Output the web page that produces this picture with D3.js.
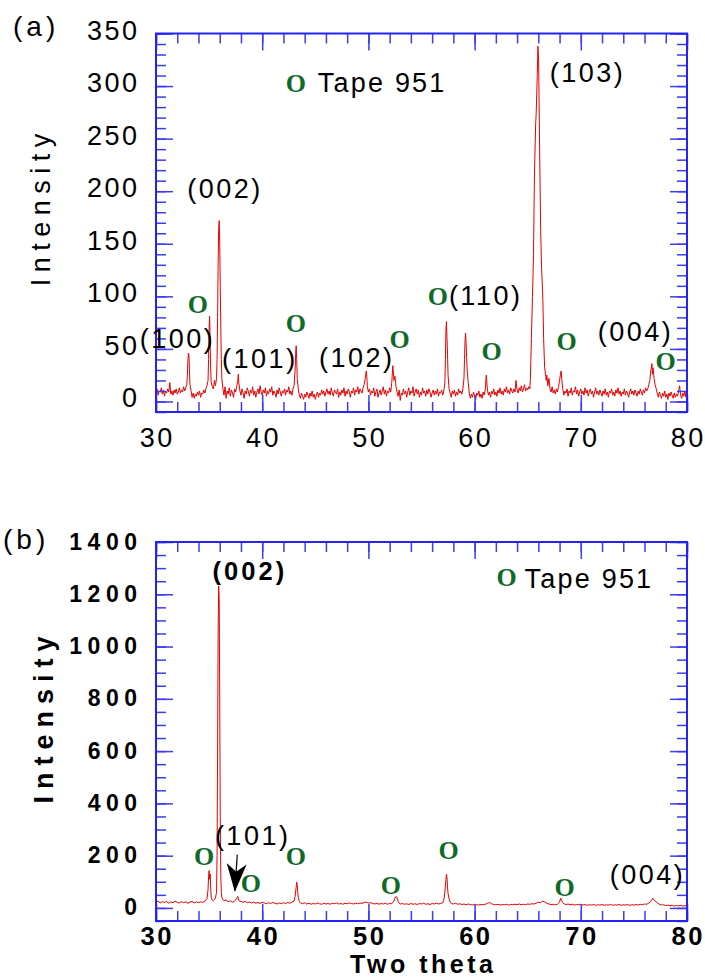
<!DOCTYPE html>
<html>
<head>
<meta charset="utf-8">
<script src="https://cdn.jsdelivr.net/npm/d3@7"></script>
<style>
  html, body { margin: 0; padding: 0; background: #fff; }
  svg text { font-family: "Liberation Sans", Arial, Helvetica, sans-serif; }
</style>
</head>
<body>
<svg id="chart" width="705" height="979"></svg>
<script>
// ---- axis ticks ----
const twoThetaTicks = [30, 40, 50, 60, 70, 80];
const intensityTicksA = [0, 50, 100, 150, 200, 250, 300, 350];
const intensityTicksB = [0, 200, 400, 600, 800, 1000, 1200, 1400];

// ---- XRD scan (a): [2θ, intensity] ----
const scanA = [
  [30.0,8],[30.1,12],[30.2,6],[30.3,10],[30.4,9],[30.5,13],[30.6,7],[30.7,11],[30.8,5],[30.9,10],
  [31.0,8],[31.1,12],[31.2,9],[31.3,18],[31.4,7],[31.5,10],[31.6,6],[31.7,11],[31.8,8],[31.9,12],
  [32.0,7],[32.1,9],[32.2,13],[32.3,8],[32.4,11],[32.5,9],[32.6,14],[32.7,10],[32.8,13],
  [32.9,16],[32.95,24],[33.0,38],[33.05,46],[33.1,44],[33.15,30],[33.2,16],[33.3,10],
  [33.4,4],[33.5,8],[33.6,3],[33.7,7],[33.8,5],[33.9,9],[34.0,6],[34.1,10],[34.2,4],[34.3,8],
  [34.4,7],[34.5,11],[34.6,8],[34.7,12],[34.8,15],
  [34.9,20],[34.95,40],[35.0,70],[35.05,81],[35.1,55],[35.15,30],[35.2,18],[35.3,14],[35.4,12],
  [35.5,20],[35.6,15],[35.7,22],
  [35.75,40],[35.8,80],[35.85,130],[35.9,163],[35.95,172],[36.0,150],[36.05,110],[36.1,70],
  [36.15,40],[36.2,22],[36.3,12],
  [36.4,6],[36.5,14],[36.6,3],[36.7,10],[36.8,7],[36.9,13],[37.0,5],[37.1,11],[37.2,8],[37.3,4],
  [37.4,12],[37.5,9],[37.6,14],[37.7,20],[37.75,26],[37.8,18],[37.9,10],
  [38.0,6],[38.1,12],[38.2,8],[38.3,3],[38.4,10],[38.5,7],[38.6,13],[38.7,9],[38.8,5],[38.9,11],
  [39.0,8],[39.1,14],[39.2,6],[39.3,10],[39.4,4],[39.5,9],[39.6,12],[39.7,7],[39.8,15],[39.9,9],
  [40.0,6],[40.1,11],[40.2,8],[40.3,13],[40.4,5],[40.5,10],[40.6,7],[40.7,12],[40.8,9],[40.9,14],
  [41.0,6],[41.1,10],[41.2,8],[41.3,4],[41.4,11],[41.5,7],[41.6,13],[41.7,9],[41.8,5],[41.9,10],
  [42.0,8],[42.1,12],[42.2,6],[42.3,11],[42.4,9],[42.5,14],[42.6,7],[42.7,10],[42.8,6],[42.9,12],
  [43.0,15],[43.1,30],[43.15,45],[43.2,53],[43.25,40],[43.3,22],[43.4,12],[43.5,6],
  [43.6,3],[43.7,8],[43.8,5],[43.9,2],[44.0,7],[44.1,4],[44.2,9],[44.3,6],[44.4,3],[44.5,8],
  [44.6,5],[44.7,10],[44.8,4],[44.9,7],[45.0,2],[45.1,6],[45.2,9],[45.3,4],[45.4,8],[45.5,6],
  [45.6,11],[45.7,7],[45.8,10],[45.9,5],[46.0,9],[46.1,12],[46.2,7],[46.3,10],[46.4,6],[46.5,13],
  [46.6,8],[46.7,5],[46.8,11],[46.9,9],[47.0,7],[47.1,12],[47.2,4],[47.3,9],[47.4,6],[47.5,11],
  [47.6,8],[47.7,13],[47.8,5],[47.9,10],[48.0,7],[48.1,12],[48.2,9],[48.3,4],[48.4,10],[48.5,8],
  [48.6,13],[48.7,6],[48.8,11],[48.9,9],[49.0,14],[49.1,7],[49.2,12],[49.3,10],[49.4,8],[49.5,13],
  [49.6,16],[49.7,22],[49.8,29],[49.85,24],[49.9,14],
  [50.0,9],[50.1,12],[50.2,6],[50.3,10],[50.4,8],[50.5,13],[50.6,5],[50.7,9],[50.8,12],[50.9,4],
  [51.0,8],[51.1,11],[51.2,6],[51.3,10],[51.4,14],[51.5,7],[51.6,11],[51.7,5],[51.8,10],[51.9,8],
  [52.0,13],[52.1,9],[52.2,18],[52.3,34],[52.35,28],[52.4,20],[52.5,24],[52.6,14],[52.7,9],[52.8,5],
  [52.9,11],[53.0,1],[53.1,8],[53.2,6],[53.3,12],[53.4,7],[53.5,10],[53.6,4],[53.7,9],[53.8,13],
  [53.9,6],[54.0,10],[54.1,8],[54.2,14],[54.3,5],[54.4,9],[54.5,12],[54.6,7],[54.7,11],[54.8,4],
  [54.9,9],[55.0,6],[55.1,13],[55.2,8],[55.3,10],[55.4,5],[55.5,11],[55.6,7],[55.7,12],[55.8,9],
  [55.9,4],[56.0,8],[56.1,11],[56.2,6],[56.3,10],[56.4,7],[56.5,12],[56.6,5],[56.7,9],[56.8,8],
  [56.9,11],[57.0,6],[57.1,10],[57.2,18],[57.25,40],[57.3,68],[57.35,76],[57.4,60],[57.45,45],
  [57.5,25],[57.6,12],[57.7,8],[57.8,4],[57.9,10],[58.0,7],[58.1,11],[58.2,5],[58.3,9],[58.4,6],
  [58.5,12],[58.6,8],[58.7,10],[58.8,7],[58.9,12],
  [59.0,22],[59.05,40],[59.1,58],[59.15,65],[59.2,55],[59.25,42],[59.3,30],[59.4,18],[59.5,8],
  [59.6,3],[59.7,7],[59.8,4],[59.9,9],[60.0,5],[60.1,2],[60.2,8],[60.3,6],[60.4,10],[60.5,4],
  [60.6,7],[60.7,3],[60.8,9],[60.9,6],[61.0,11],[61.1,25],[61.2,12],[61.3,6],[61.4,9],[61.5,4],
  [61.6,10],[61.7,7],[61.8,12],[61.9,6],[62.0,9],[62.1,5],[62.2,11],[62.3,8],[62.4,13],[62.5,7],
  [62.6,10],[62.7,6],[62.8,12],[62.9,9],[63.0,14],[63.1,8],[63.2,11],[63.3,7],[63.4,13],[63.5,10],
  [63.6,8],[63.7,12],[63.8,9],[63.9,20],[64.0,11],[64.1,8],[64.2,13],[64.3,10],[64.4,15],[64.5,9],
  [64.6,12],[64.7,16],[64.8,10],[64.9,13],[65.0,11],[65.1,14],[65.2,12],
  [65.25,20],[65.35,60],[65.45,100],[65.55,140],[65.6,188],[65.65,222],[65.75,264],[65.8,274],
  [65.9,310],[65.96,338],[66.03,325],[66.12,242],[66.22,163],[66.3,130],[66.43,96],[66.5,60],
  [66.59,33],[66.7,24],[66.75,20],[66.8,25],[66.9,15],[67.0,22],[67.1,12],[67.2,9],[67.3,14],
  [67.4,8],[67.5,11],[67.6,7],[67.7,12],[67.8,9],[67.9,14],
  [68.0,20],[68.1,27],[68.15,29],[68.2,22],[68.3,12],[68.4,6],[68.5,10],[68.6,8],[68.7,12],[68.8,5],
  [68.9,10],[69.0,8],[69.1,13],[69.2,6],[69.3,10],[69.4,9],[69.5,14],[69.6,7],[69.7,11],[69.8,5],
  [69.9,9],[70.0,12],[70.1,7],[70.2,10],[70.3,6],[70.4,13],[70.5,8],[70.6,11],[70.7,5],[70.8,9],
  [70.9,12],[71.0,7],[71.1,10],[71.2,4],[71.3,9],[71.4,13],[71.5,7],[71.6,10],[71.7,6],[71.8,11],
  [71.9,8],[72.0,5],[72.1,10],[72.2,7],[72.3,12],[72.4,6],[72.5,9],[72.6,4],[72.7,10],[72.8,8],
  [72.9,12],[73.0,6],[73.1,9],[73.2,5],[73.3,11],[73.4,8],[73.5,13],[73.6,7],[73.7,10],[73.8,5],
  [73.9,9],[74.0,7],[74.1,12],[74.2,6],[74.3,10],[74.4,8],[74.5,4],[74.6,9],[74.7,12],[74.8,7],
  [74.9,10],[75.0,6],[75.1,11],[75.2,8],[75.3,5],[75.4,10],[75.5,7],[75.6,12],[75.7,9],[75.8,6],
  [75.9,11],[76.0,8],[76.1,13],[76.2,10],[76.3,12],[76.4,16],[76.5,20],[76.6,30],[76.7,36],
  [76.75,26],[76.8,32],[76.9,22],[77.0,16],[77.1,12],[77.2,8],[77.3,4],[77.4,9],[77.5,6],[77.6,3],
  [77.7,8],[77.8,5],[77.9,10],[78.0,4],[78.1,7],[78.2,2],[78.3,8],[78.4,5],[78.5,9],[78.6,6],
  [78.7,3],[78.8,8],[78.9,4],[79.0,7],[79.1,5],[79.2,9],[79.3,15],[79.4,6],[79.5,3],[79.6,8],
  [79.7,5],[79.8,10],[79.9,4],[80.0,7]
];

// ---- XRD scan (b): [2θ, intensity] ----
const scanB = [
  [30.0,22],[30.2,26],[30.4,19],[30.6,24],[30.8,21],[31.0,25],[31.2,18],[31.4,23],[31.6,20],[31.8,26],
  [32.0,21],[32.2,19],[32.4,24],[32.6,20],[32.8,23],[33.0,18],[33.2,22],[33.4,25],[33.6,19],[33.8,23],
  [34.0,20],[34.2,24],[34.4,21],[34.6,26],[34.8,35],[34.9,70],[34.95,120],[35.0,143],[35.05,110],
  [35.1,130],[35.15,80],[35.2,40],[35.3,30],[35.4,28],[35.5,32],[35.6,38],[35.7,60],[35.75,200],
  [35.8,600],[35.85,1050],[35.9,1232],[35.95,1180],[36.0,800],[36.05,350],[36.1,120],[36.15,60],
  [36.2,40],[36.3,32],[36.4,28],[36.6,30],[36.8,24],[37.0,27],[37.2,22],[37.4,26],[37.5,30],
  [37.6,37],[37.7,44],[37.8,30],[37.9,24],[38.0,26],[38.2,21],[38.4,25],[38.6,20],[38.8,23],
  [39.0,19],[39.2,22],[39.4,18],[39.6,21],[39.8,17],[40.0,22],[40.2,19],[40.4,16],[40.6,20],[40.8,17],
  [41.0,21],[41.2,18],[41.4,15],[41.6,19],[41.8,16],[42.0,20],[42.2,17],[42.4,21],[42.6,18],[42.8,22],
  [43.0,26],[43.1,45],[43.2,80],[43.25,99],[43.3,85],[43.35,60],[43.4,40],[43.5,25],[43.6,19],
  [43.8,16],[44.0,20],[44.2,15],[44.4,18],[44.6,14],[44.8,17],[45.0,15],[45.2,19],[45.4,16],[45.6,14],
  [45.8,18],[46.0,15],[46.2,17],[46.4,14],[46.6,18],[46.8,16],[47.0,19],[47.2,15],[47.4,17],[47.6,14],
  [47.8,18],[48.0,16],[48.2,19],[48.4,17],[48.6,15],[48.8,18],[49.0,16],[49.2,19],[49.4,17],[49.6,21],
  [49.8,22],[50.0,19],[50.2,20],[50.4,17],[50.6,15],[50.8,18],[51.0,14],[51.2,17],[51.4,15],[51.6,18],
  [51.8,14],[52.0,17],[52.2,16],[52.4,26],[52.5,38],[52.6,44],[52.7,40],[52.8,25],[52.9,18],[53.0,15],
  [53.2,17],[53.4,14],[53.6,16],[53.8,13],[54.0,17],[54.2,14],[54.4,16],[54.6,13],[54.8,17],[55.0,15],
  [55.2,18],[55.4,14],[55.6,16],[55.8,13],[56.0,17],[56.2,15],[56.4,18],[56.6,15],[56.8,17],[57.0,20],
  [57.1,30],[57.2,60],[57.3,110],[57.35,129],[57.4,115],[57.45,80],[57.5,55],[57.6,35],[57.7,22],
  [57.8,17],[58.0,15],[58.2,18],[58.4,14],[58.6,16],[58.8,13],[59.0,15],[59.2,12],[59.4,15],[59.6,13],
  [59.8,11],[60.0,14],[60.2,12],[60.4,11],[60.6,13],[60.8,12],[61.0,14],[61.2,17],[61.4,21],[61.6,16],
  [61.8,13],[62.0,12],[62.2,14],[62.4,11],[62.6,13],[62.8,12],[63.0,14],[63.2,11],[63.4,13],[63.6,12],
  [63.8,14],[64.0,13],[64.2,15],[64.4,12],[64.6,14],[64.8,13],[65.0,15],[65.2,14],[65.4,16],[65.6,15],
  [65.8,18],[66.0,22],[66.2,20],[66.4,26],[66.6,23],[66.8,18],[67.0,15],[67.2,13],[67.4,14],[67.6,12],
  [67.8,14],[68.0,22],[68.1,37],[68.2,28],[68.3,20],[68.4,16],[68.6,13],[68.8,15],[69.0,12],[69.2,14],
  [69.4,11],[69.6,13],[69.8,12],[70.0,14],[70.2,11],[70.4,13],[70.6,10],[70.8,12],[71.0,11],[71.2,13],
  [71.4,10],[71.6,12],[71.8,11],[72.0,13],[72.2,10],[72.4,12],[72.6,11],[72.8,13],[73.0,10],[73.2,12],
  [73.4,11],[73.6,13],[73.8,10],[74.0,12],[74.2,11],[74.4,13],[74.6,10],[74.8,12],[75.0,11],[75.2,13],
  [75.4,11],[75.6,14],[75.8,12],[76.0,15],[76.2,14],[76.4,18],[76.6,25],[76.7,33],[76.8,37],[76.9,30],
  [77.0,26],[77.2,20],[77.4,14],[77.6,11],[77.8,12],[78.0,9],[78.2,11],[78.4,8],[78.6,10],[78.8,7],
  [79.0,9],[79.2,8],[79.4,10],[79.6,7],[79.8,9],[80.0,8]
];

// ---- reflection labels: text and anchor [2θ, intensity] ----
const hklLabelsA = [
  { text: "(100)", at: [32.02, 50.5] },
  { text: "(002)", at: [36.49, 193.3] },
  { text: "(101)", at: [39.78, 31.4] },
  { text: "(102)", at: [48.9, 32.4] },
  { text: "(110)", at: [61.04, 91.4] },
  { text: "(103)", at: [70.64, 303.8] },
  { text: "(004)", at: [75.16, 57.1] }
];
// secondary-phase markers ("O")
const phaseMarksA = [[33.95, 83.8], [43.17, 65.7], [52.95, 50.5], [56.53, 91.4], [61.61, 39.0], [68.66, 48.6], [77.98, 29.5]];
const legendA = { mark: [43.17, 294.6], text: "Tape 951", textAt: [45.24, 294.6] };

const hklLabelsB = [
  { text: "(002)", at: [38.84, 1255.9], bold: true },
  { text: "(101)", at: [39.1, 240] },
  { text: "(004)", at: [76.28, 93.3] }
];
const phaseMarksB = [[34.52, 165.6], [38.94, 62.3], [43.17, 165.6], [52.11, 54.7], [57.56, 188.5], [68.48, 47.0]];
const legendB = { mark: [63.02, 1232.5], text: "Tape 951", textAt: [64.71, 1224.8] };
const arrowB = { from: [37.65, 204], to: [37.43, 66] };

// ---- drawing ----
const svg = d3.select("#chart");
const FRAME = "#2424f2", TICK = "#3c3cf0", TRACE = "#e80000", GREEN = "#0f6a2a";
const LEFT = 156, RIGHT = 687;

svg.append("defs").append("marker")
  .attr("id", "arrowhead")
  .attr("viewBox", "0 -10 28 20")
  .attr("refX", 27).attr("refY", 0)
  .attr("markerWidth", 28).attr("markerHeight", 20)
  .attr("markerUnits", "userSpaceOnUse")
  .attr("orient", "auto")
  .append("path")
  .attr("d", "M0,-10L28,0L0,10L8,0Z")
  .attr("fill", "#000");

function drawPanel(o) {
  const x = d3.scaleLinear().domain([30, 80]).range([LEFT, RIGHT]);
  const y = d3.scaleLinear().domain(o.yDomain).range([o.bottom, o.top]);
  const g = svg.append("g");

  g.append("clipPath").attr("id", "clip-" + o.key)
    .append("rect").attr("x", LEFT).attr("y", o.top)
    .attr("width", RIGHT - LEFT).attr("height", o.bottom - o.top);

  // diffraction trace
  g.append("path").datum(o.scan)
    .attr("clip-path", `url(#clip-${o.key})`)
    .attr("fill", "none").attr("stroke", TRACE).attr("stroke-width", 1)
    .attr("stroke-linejoin", "round")
    .attr("d", d3.line().x(d => x(d[0])).y(d => y(d[1])));

  // inward ticks on all four sides
  const xMinor = d3.range(30, 80.001, 2);
  const yMinor = d3.range(o.yDomain[0], o.yDomain[1] + 0.001, o.yMinorStep);
  const sides = [
    [d3.axisBottom(x), `translate(0,${o.bottom})`, xMinor, twoThetaTicks],
    [d3.axisTop(x), `translate(0,${o.top})`, xMinor, twoThetaTicks],
    [d3.axisLeft(y), `translate(${LEFT},0)`, yMinor, o.yTicks],
    [d3.axisRight(y), `translate(${RIGHT},0)`, yMinor, o.yTicks]
  ];
  sides.forEach(([axis, tr, minor, major]) => {
    [[minor, 10], [major, 17]].forEach(([vals, len]) => {
      const a = g.append("g").attr("transform", tr)
        .call(axis.tickValues(vals).tickSizeInner(-len).tickSizeOuter(0).tickFormat(""));
      a.select(".domain").remove();
      a.selectAll("text").remove();
      a.selectAll("line").attr("stroke", TICK).attr("stroke-width", 1.5);
    });
  });

  // frame
  g.append("rect").attr("x", LEFT).attr("y", o.top)
    .attr("width", RIGHT - LEFT).attr("height", o.bottom - o.top)
    .attr("fill", "none").attr("stroke", FRAME).attr("stroke-width", 2);

  // tick labels
  g.selectAll(null).data(twoThetaTicks).join("text")
    .attr("x", d => x(d) + o.xLabel.ls / 2).attr("y", o.xLabel.baseline)
    .attr("text-anchor", "middle")
    .style("font-size", o.xLabel.size + "px").style("font-weight", o.xLabel.weight)
    .style("letter-spacing", o.xLabel.ls + "px")
    .text(d => d);
  g.selectAll(null).data(o.yTicks).join("text")
    .attr("x", 137 + o.yLabel.ls).attr("y", d => y(d) + o.yLabel.shift)
    .attr("text-anchor", "end")
    .style("font-size", o.yLabel.size + "px").style("font-weight", o.yLabel.weight)
    .style("letter-spacing", o.yLabel.ls + "px")
    .text(d => d);

  // axis titles
  g.append("text")
    .attr("transform", `translate(${o.yTitle.x},${(o.top + o.bottom) / 2 + o.yTitle.dy}) rotate(-90)`)
    .attr("text-anchor", "middle")
    .style("font-size", o.yTitle.size + "px").style("font-weight", o.yTitle.weight)
    .style("letter-spacing", o.yTitle.ls + "px")
    .text("Intensity");

  // panel tag
  g.append("text").attr("x", o.tag.x).attr("y", o.tag.y)
    .style("font-size", "28px").style("letter-spacing", "4px")
    .text(o.tag.text);

  // reflection labels
  g.selectAll(null).data(o.hkl).join("text")
    .attr("x", d => x(d.at[0])).attr("y", d => y(d.at[1]))
    .attr("text-anchor", "middle")
    .style("font-size", d => d.bold ? "25.5px" : "27px")
    .style("font-weight", d => d.bold ? "bold" : "normal")
    .style("letter-spacing", d => d.bold ? "3px" : "2.5px")
    .text(d => d.text);

  // phase markers
  const marks = o.marks.concat([o.legend.mark]);
  g.selectAll(null).data(marks).join("text")
    .attr("x", d => x(d[0])).attr("y", d => y(d[1]))
    .attr("text-anchor", "middle")
    .attr("fill", GREEN)
    .style("font-family", "'Liberation Serif', 'Times New Roman', serif")
    .style("font-weight", "bold").style("font-size", "26px")
    .text("O");

  g.append("text")
    .attr("x", x(o.legend.textAt[0])).attr("y", y(o.legend.textAt[1]))
    .style("font-size", "27px").style("letter-spacing", "2.2px")
    .text(o.legend.text);

  return { x, y, g };
}

drawPanel({
  key: "a", top: 33.5, bottom: 412, yDomain: [-10, 350], yMinorStep: 10,
  yTicks: intensityTicksA, scan: scanA,
  xLabel: { size: 27, weight: "normal", ls: 2.5, baseline: 447 },
  yLabel: { size: 27, weight: "normal", ls: 2.5, shift: 6 },
  yTitle: { x: 50, dy: -16, size: 27, weight: "normal", ls: 6.5 },
  tag: { text: "(a)", x: 13, y: 36 },
  hkl: hklLabelsA, marks: phaseMarksA, legend: legendA
});

const pb = drawPanel({
  key: "b", top: 542, bottom: 921, yDomain: [-50, 1400], yMinorStep: 50,
  yTicks: intensityTicksB, scan: scanB,
  xLabel: { size: 25.5, weight: "bold", ls: 2.5, baseline: 945 },
  yLabel: { size: 23, weight: "bold", ls: 5.5, shift: 7.5 },
  yTitle: { x: 53, dy: -15, size: 27, weight: "bold", ls: 7 },
  tag: { text: "(b)", x: 3, y: 549 },
  hkl: hklLabelsB, marks: phaseMarksB, legend: legendB
});

// arrow pointing at the (101) reflection
pb.g.append("line")
  .attr("x1", pb.x(arrowB.from[0])).attr("y1", pb.y(arrowB.from[1]))
  .attr("x2", pb.x(arrowB.to[0])).attr("y2", pb.y(arrowB.to[1]))
  .attr("stroke", "#000").attr("stroke-width", 1.2)
  .attr("marker-end", "url(#arrowhead)");

// x-axis title
svg.append("text")
  .attr("x", (LEFT + RIGHT) / 2 + 1.75).attr("y", 973)
  .attr("text-anchor", "middle")
  .style("font-size", "25px").style("font-weight", "bold").style("letter-spacing", "3.5px")
  .text("Two theta");
</script>
</body>
</html>
